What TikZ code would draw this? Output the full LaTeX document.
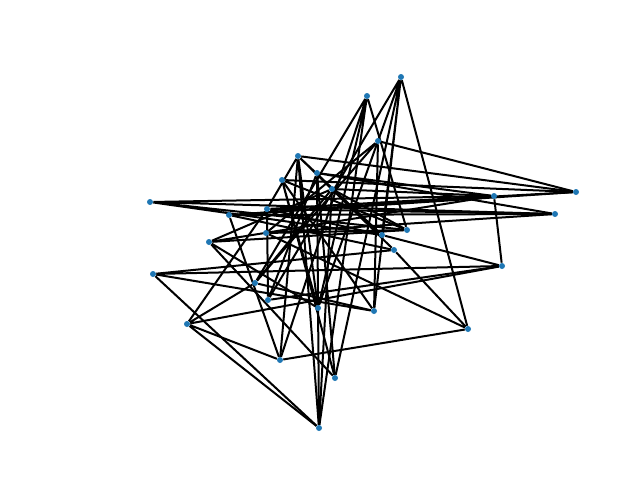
\documentclass[tikz,border=0pt]{standalone}
\usetikzlibrary{backgrounds}

\begin{document}
\begin{tikzpicture}[x=1pt,y=-1pt,semithick]
\tikzset{vertex/.style={circle,fill={rgb,255:red,31;green,119;blue,180},inner sep=0pt,minimum size=6pt},
  link/.style={draw=black,line width=2pt}}
\useasboundingbox (0,0) rectangle (640,480);
\node[vertex] (0) at (401,77) {};
\node[vertex] (1) at (367,96) {};
\node[vertex] (2) at (378,141) {};
\node[vertex] (3) at (298,156) {};
\node[vertex] (4) at (317,173) {};
\node[vertex] (5) at (282,180) {};
\node[vertex] (6) at (332,189) {};
\node[vertex] (7) at (150,202) {};
\node[vertex] (8) at (267,209) {};
\node[vertex] (9) at (229,215) {};
\node[vertex] (10) at (407,230) {};
\node[vertex] (11) at (382,235) {};
\node[vertex] (12) at (394,250) {};
\node[vertex] (13) at (576,192) {};
\node[vertex] (14) at (494,196) {};
\node[vertex] (15) at (555,214) {};
\node[vertex] (16) at (502,266) {};
\node[vertex] (17) at (374,311) {};
\node[vertex] (18) at (468,329) {};
\node[vertex] (19) at (209,242) {};
\node[vertex] (20) at (153,274) {};
\node[vertex] (21) at (266,233) {};
\node[vertex] (22) at (255,283) {};
\node[vertex] (23) at (268,300) {};
\node[vertex] (24) at (318,308) {};
\node[vertex] (25) at (187,324) {};
\node[vertex] (26) at (280,360) {};
\node[vertex] (27) at (335,378) {};
\node[vertex] (28) at (319,428) {};
\begin{scope}[on background layer]
\path[link] (0) -- (18) (0) -- (17) (0) -- (24) (0) -- (23) (0) -- (11) (0) -- (27);
\path[link] (1) -- (28) (1) -- (26) (1) -- (24) (1) -- (22) (1) -- (10);
\path[link] (2) -- (13) (2) -- (17) (2) -- (21) (2) -- (22);
\path[link] (3) -- (13) (3) -- (28) (3) -- (24) (3) -- (12) (3) -- (11) (3) -- (8) (3) -- (26);
\path[link] (4) -- (15) (4) -- (27) (4) -- (23) (4) -- (28) (4) -- (14);
\path[link] (5) -- (13) (5) -- (27) (5) -- (24) (5) -- (17) (5) -- (10);
\path[link] (6) -- (14) (6) -- (28) (6) -- (10) (6) -- (22) (6) -- (19);
\path[link] (7) -- (14) (7) -- (15) (7) -- (11) (7) -- (10);
\path[link] (8) -- (13) (8) -- (15) (8) -- (11) (8) -- (23) (8) -- (25) (8) -- (14);
\path[link] (9) -- (15) (9) -- (13) (9) -- (26) (9) -- (12) (9) -- (14);
\path[link] (19) -- (14) (19) -- (10) (19) -- (24) (19) -- (27);
\path[link] (20) -- (16) (20) -- (28) (20) -- (17) (20) -- (12);
\path[link] (25) -- (26) (25) -- (28) (25) -- (16) (25) -- (22);
\path[link] (26) -- (18) (16) -- (14) (16) -- (11) (16) -- (23);
\path[link] (18) -- (12) (18) -- (21) (17) -- (22) (21) -- (10) (21) -- (15);
\end{scope}
\end{tikzpicture}
\end{document}
